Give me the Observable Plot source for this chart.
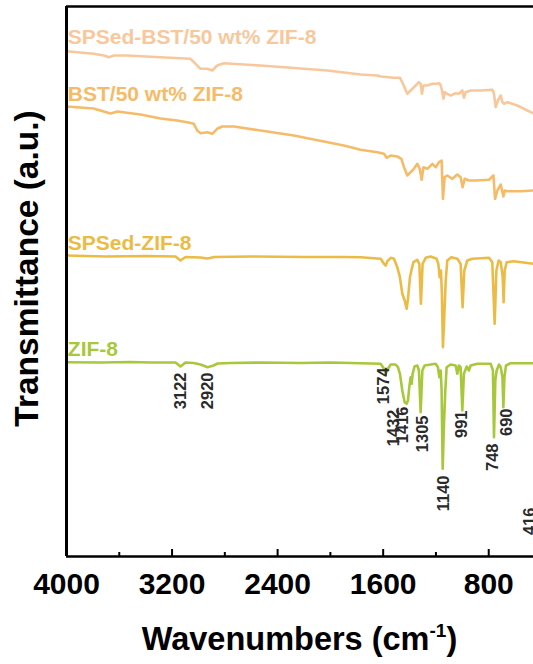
<!DOCTYPE html>
<html>
<head>
<meta charset="utf-8">
<script src="https://cdn.jsdelivr.net/npm/d3@7"></script>
<script src="https://cdn.jsdelivr.net/npm/@observablehq/plot@0.6"></script>
<style>
  body { margin: 0; background: #fff; font-family: "Liberation Sans", Arial, sans-serif; }
  #wrap { width: 533px; overflow: hidden; }
  #xtitle { width: 533px; box-sizing: border-box; padding-left: 66px; text-align: center;
            font-weight: bold; font-size: 32.5px; line-height: 59px; color: #000; }
  #xtitle sup { font-size: 19px; line-height: 0; vertical-align: 13px; }
</style>
</head>
<body>
<div id="wrap">
  <div id="chart"></div>
  <div id="xtitle">Wavenumbers (cm<sup>-1</sup>)</div>
</div>
<script>
// ---- data (wavenumber cm-1, transmittance a.u. with vertical offsets) ----
const seriesNames = ["SPSed-BST/50 wt% ZIF-8", "BST/50 wt% ZIF-8", "SPSed-ZIF-8", "ZIF-8"];
const seriesColors = ["#f8c89c", "#f6bb68", "#ebbb45", "#a8c83c"];
const seriesLabelW = [3990, 3990, 3990, 3990];
const seriesLabelT = [513, 456, 307, 201];

const spsBst = [[4000,505.3],[3793,502.7],[3717,501],[3679,499.3],[3641,501],[3540,501],[3287,499.3],[3060,497.7],[3022,492.7],[2984,487.7],[2933,487.7],[2895,486],[2858,491],[2807,493.3],[2529,491],[2023,486],[1771,482],[1644,481],[1619,480],[1518,478.7],[1473,478.7],[1455,474.3],[1417,462.7],[1392,466],[1354,471],[1329,474.3],[1316,472.7],[1306,462.7],[1295,471],[1265,471],[1227,472.7],[1195,472.7],[1174,473.3],[1164,471],[1154,466],[1143,457.7],[1134,464.3],[1114,462.7],[1089,461],[1051,463.3],[1026,462.7],[1000,466],[988,458.7],[975,464.3],[937,466],[861,466],[772,466.7],[760,462.7],[747,449.3],[730,456],[709,461],[696,454.3],[684,452.7],[659,454.3],[583,451],[507,446],[462,443.3],[400,439]];

const bst = [[4000,450],[3795,448],[3666,443],[3613,445],[3439,442],[3287,438],[3161,436],[3085,434.3],[3035,432.7],[3009,426],[2984,423.3],[2933,424.3],[2895,422.7],[2858,427.7],[2820,430],[2732,430],[2277,421],[1898,411],[1771,406.7],[1644,404.3],[1594,402.7],[1573,398.7],[1543,401],[1493,400],[1462,397.7],[1442,389.3],[1417,381],[1392,384.3],[1367,387.7],[1341,392.7],[1323,387.7],[1308,376.7],[1295,389.3],[1265,387.7],[1227,392.7],[1202,389.3],[1177,394.3],[1157,396],[1147,357.7],[1134,379.3],[1114,381],[1076,377.7],[1038,382],[1013,379.3],[998,369.3],[982,377.7],[950,376],[899,376],[798,376.7],[764,381],[752,357.7],[734,366],[709,372],[689,360],[679,366],[659,365.3],[558,365.3],[462,366],[400,367]];

const spsZif = [[4000,301],[3700,300],[3400,300.5],[3174,300],[3136,296],[3098,299.5],[2984,299],[2931,298],[2880,299.5],[2600,300],[2200,299.5],[1900,299.5],[1771,299.3],[1619,297.7],[1594,292.7],[1581,291],[1568,295.3],[1543,298.7],[1518,297.7],[1493,289.3],[1473,279.3],[1455,262.7],[1437,256],[1422,247.7],[1412,257.7],[1397,279.3],[1386,286],[1371,294.3],[1341,296.7],[1326,292.7],[1314,252.7],[1301,292.7],[1278,298.7],[1240,300],[1195,297.7],[1182,292.7],[1172,279.3],[1162,286],[1155,262.7],[1147,209.3],[1136,242.7],[1126,276],[1114,296],[1083,299.3],[1038,297.7],[1013,292.7],[998,249.3],[985,286],[962,296],[924,297.7],[798,298.7],[773,294.3],[755,232.7],[742,286],[725,296],[709,294.3],[694,279.3],[687,254.3],[679,286],[664,294.3],[609,295.3],[462,292.7],[430,292],[416,200],[405,290],[400,292]];

const zif = [[4000,194.3],[3742,194],[3515,194.5],[3363,194],[3174,194],[3136,190],[3098,194],[3037,193.5],[2984,192],[2931,189.3],[2885,191],[2855,193],[2757,193.5],[2529,194],[2226,193.5],[1998,194],[1847,193.5],[1771,193.3],[1619,192.7],[1594,187.7],[1581,182.7],[1568,186.7],[1543,192],[1506,192],[1488,189.3],[1473,182.7],[1455,166],[1437,154.3],[1422,152.7],[1412,156],[1402,169.3],[1392,179.3],[1384,172.7],[1377,182.7],[1362,190],[1341,191],[1329,186],[1316,144.3],[1303,186],[1286,191],[1240,192],[1202,192.7],[1185,189.3],[1174,179.3],[1164,186],[1157,166],[1149,87.7],[1139,132.7],[1129,166],[1119,189.3],[1089,192],[1051,191],[1038,182.7],[1026,191],[1013,189.3],[1000,146],[988,182.7],[967,190],[950,186],[937,191],[886,192.7],[785,192.7],[768,186],[760,119.3],[750,176],[740,186],[722,192],[709,189.3],[696,179.3],[689,149.3],[681,179.3],[669,191],[634,193.3],[462,193.3],[430,193],[416,40],[405,190],[400,193]];

const peakText = ["3122", "2920", "1574", "1432", "1416", "1305", "1140", "991", "748", "690", "416"];
const peakW    = [3136, 2931, 1593, 1521, 1452, 1301, 1142, 1001, 766, 664, 490];
const peakT    = [184, 184, 189, 147, 150, 141, 81, 146, 113, 148, 49];

const majorTicks = [4000, 3200, 2400, 1600, 800];
const minorTicks = [3600, 2800, 2000, 1200, 400];
const yTitle = "Transmittance (a.u.)";

// ---- build tables ----
const allSeries = [spsBst, bst, spsZif, zif];
const spectra = allSeries.flatMap((arr, i) => arr.map(([w, t]) => ({w, t, s: seriesNames[i]})));
const seriesLabels = seriesNames.map((name, i) => ({name, w: seriesLabelW[i], t: seriesLabelT[i]}));
const peaks = peakText.map((label, i) => ({label, w: peakW[i], t: peakT[i]}));

const chart = Plot.plot({
  width: 533,
  height: 610,
  marginLeft: 66,
  marginRight: 0,
  marginTop: 6,
  marginBottom: 54,
  x: {domain: [4000, 400], range: [66, 541]},
  y: {domain: [0, 550], axis: null},
  color: {domain: seriesNames, range: seriesColors},
  style: {fontFamily: '"Liberation Sans", Arial, sans-serif', background: "white", overflow: "hidden", color: "black"},
  marks: [
    Plot.lineY(spectra, {x: "w", y: "t", z: "s", stroke: "s", strokeWidth: 2.6, strokeLinejoin: "round", strokeLinecap: "round"}),
    Plot.text(seriesLabels, {x: "w", y: "t", text: "name", fill: "name", textAnchor: "start", lineAnchor: "bottom", fontSize: 21, fontWeight: "bold"}),
    Plot.text(peaks, {x: "w", y: "t", text: "label", rotate: -90, textAnchor: "end", fontSize: 16.5, fontWeight: "bold", fill: "#2a2a2a"}),
    Plot.ruleY([0], {stroke: "black", strokeWidth: 2.5}),
    Plot.ruleY([550], {stroke: "black", strokeWidth: 2.5}),
    Plot.ruleX([4000], {stroke: "black", strokeWidth: 3}),
    Plot.axisX({ticks: majorTicks, tickSize: -7, strokeWidth: 2, fill: "none", label: null}),
    Plot.axisX({ticks: minorTicks, tickSize: -4, strokeWidth: 2, fill: "none", label: null}),
    Plot.axisX({ticks: majorTicks, tickSize: 0, tickPadding: 16, fontSize: 30, fontWeight: "bold", label: null, tickFormat: d3.format("d")}),
    Plot.text([yTitle], {frameAnchor: "left", textAnchor: "middle", dx: -39, dy: -13, rotate: -90, fontSize: 33.5, fontWeight: "bold", fill: "black"})
  ]
});
document.getElementById("chart").appendChild(chart);
</script>
</body>
</html>
